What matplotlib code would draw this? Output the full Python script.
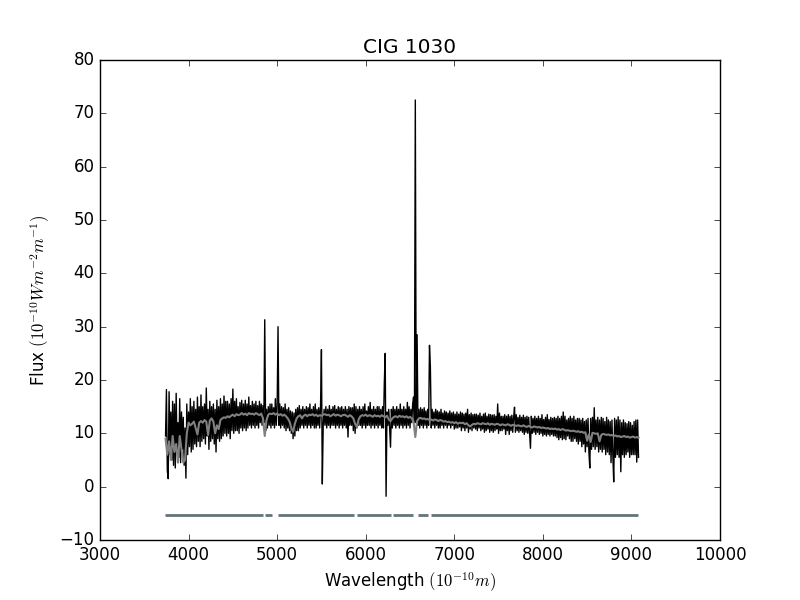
import numpy as np
import matplotlib

matplotlib.use("Agg")
import matplotlib.pyplot as plt

plt.style.use("classic")

title = "CIG 1030"

# observed spectrum: 10 A steps from 3740 to 9080
wave_obs = np.arange(3740, 9081, 10)
flux_obs = [
    9.5, 18.2, 3.0, 1.5, 17.8, 6.0, 14.0, 5.0, 16.0, 4.0,
    15.5, 3.5, 17.5, 6.5, 12.0, 5.5, 16.5, 4.5, 14.0, 7.0,
    13.0, 4.0, 11.0, 1.6, 15.5, 6.0, 14.0, 7.5, 16.5, 6.5,
    15.0, 7.0, 16.0, 8.0, 14.5, 7.5, 16.8, 8.5, 15.0, 7.5,
    17.2, 8.5, 15.0, 9.0, 15.5, 8.0, 18.5, 9.5, 14.5, 7.0,
    16.0, 8.5, 15.0, 9.0, 15.5, 8.0, 14.5, 6.5, 16.2, 9.0,
    15.0, 8.5, 16.5, 9.0, 15.5, 9.5, 17.0, 10.0, 16.0, 9.5,
    16.0, 10.0, 15.5, 9.0, 16.5, 10.5, 18.3, 10.0, 16.0, 10.5,
    16.5, 10.5, 15.0, 10.0, 15.8, 11.0, 16.2, 10.5, 15.5, 11.0,
    16.2, 10.5, 15.5, 11.0, 16.8, 11.5, 15.2, 11.0, 16.0, 11.5,
    15.5, 11.0, 16.0, 11.5, 15.2, 11.0, 16.0, 12.0, 15.5, 11.5,
    15.2, 12.0, 31.3, 10.5, 14.5, 11.0, 15.0, 11.5, 15.5, 11.0,
    15.5, 11.5, 14.8, 11.0, 16.5, 11.5, 15.0, 30.0, 11.5, 15.5,
    11.0, 15.0, 11.5, 14.8, 11.0, 15.5, 10.5, 14.5, 11.0, 14.8,
    10.5, 14.2, 10.0, 14.0, 9.0, 13.8, 9.5, 14.5, 10.5, 14.8,
    10.5, 15.2, 11.0, 14.5, 11.5, 15.0, 11.0, 14.5, 11.5, 15.0,
    11.0, 14.8, 11.5, 15.5, 11.0, 14.5, 11.5, 15.0, 11.0, 15.5,
    11.0, 14.5, 11.5, 14.8, 11.0, 15.0, 25.7, 0.5, 11.5, 14.5,
    11.5, 15.0, 11.0, 14.5, 11.5, 15.2, 11.0, 14.5, 11.5, 15.0,
    11.5, 15.2, 11.0, 14.5, 11.5, 15.0, 11.0, 14.8, 11.5, 15.0,
    11.0, 14.5, 11.5, 15.0, 11.0, 14.5, 9.3, 15.0, 11.5, 14.8,
    11.5, 14.8, 10.5, 15.5, 10.0, 15.0, 11.0, 14.5, 11.5, 15.0,
    11.5, 14.5, 11.0, 15.0, 11.5, 15.5, 11.0, 14.2, 11.5, 15.0,
    11.5, 15.8, 11.0, 14.5, 11.5, 15.0, 11.0, 14.5, 11.5, 15.0,
    11.0, 15.0, 11.5, 14.5, 11.0, 15.0, 11.0, 19.5, 25.0, -1.8,
    14.0, 11.5, 14.5, 11.0, 7.4, 14.5, 11.0, 15.0, 11.5, 14.5,
    11.0, 15.0, 11.5, 14.5, 11.0, 15.5, 11.5, 14.5, 11.0, 15.0,
    11.5, 14.5, 11.0, 15.8, 11.5, 15.0, 11.0, 14.5, 12.0, 15.5,
    16.8, 12.0, 72.5, 12.0, 28.5, 11.5, 14.5, 11.0, 14.8, 11.5,
    14.5, 11.0, 14.8, 11.5, 14.2, 11.0, 14.5, 11.5, 26.5, 22.5,
    11.0, 14.5, 11.5, 14.0, 11.0, 14.5, 11.5, 14.2, 11.0, 14.0,
    11.0, 14.5, 11.5, 13.8, 11.0, 14.2, 11.5, 14.0, 11.0, 13.8,
    11.5, 14.2, 11.0, 13.8, 11.5, 14.0, 10.8, 13.6, 11.0, 14.0,
    11.0, 13.6, 11.2, 14.0, 10.5, 13.8, 11.0, 13.6, 10.5, 13.8,
    11.0, 14.5, 10.2, 13.5, 10.8, 13.8, 10.5, 13.5, 11.0, 13.6,
    10.8, 13.6, 10.5, 13.4, 11.0, 13.8, 10.5, 13.2, 10.8, 13.6,
    10.2, 13.8, 10.5, 13.2, 10.8, 13.6, 10.2, 13.5, 10.5, 13.4,
    10.2, 13.5, 10.5, 13.2, 10.8, 15.5, 10.0, 13.8, 10.5, 13.2,
    10.5, 13.2, 10.8, 13.5, 9.8, 13.2, 10.5, 13.5, 9.8, 13.2,
    10.5, 13.4, 10.2, 13.0, 14.9, 10.2, 13.5, 10.5, 13.0, 10.2,
    13.4, 10.5, 13.0, 10.2, 13.4, 9.8, 13.0, 10.2, 13.2, 10.0,
    13.0, 10.2, 7.2, 13.2, 10.0, 12.8, 10.2, 13.2, 9.8, 12.8,
    10.2, 13.2, 9.8, 12.8, 10.0, 13.5, 9.5, 12.6, 9.8, 13.0,
    9.5, 13.5, 9.8, 12.6, 9.5, 13.0, 9.8, 12.8, 9.5, 13.0,
    9.5, 12.8, 9.2, 13.2, 8.8, 12.8, 9.2, 13.2, 8.8, 14.0,
    9.0, 13.2, 8.8, 12.5, 9.5, 12.8, 9.0, 13.2, 8.5, 12.8,
    8.5, 13.2, 9.0, 12.5, 8.5, 12.8, 8.0, 12.8, 8.5, 12.5,
    7.5, 12.8, 8.0, 12.2, 6.5, 12.5, 7.5, 12.8, 6.5, 3.5,
    12.8, 7.0, 13.0, 7.5, 14.8, 7.0, 12.5, 7.5, 13.0, 6.5,
    12.5, 7.0, 13.0, 6.5, 12.8, 7.0, 12.2, 6.0, 13.0, 6.5,
    12.5, 6.0, 12.2, 4.5, 12.5, 6.0, 0.9, 12.8, 5.5, 12.5,
    6.0, 13.1, 5.5, 12.5, 2.8, 12.0, 6.0, 12.5, 5.5, 12.0,
    6.0, 11.8, 6.5, 12.2, 5.5, 12.0, 6.0, 11.5, 6.0, 12.2,
    6.0, 12.5, 4.6, 12.5, 5.5,
]

# fitted model (grey curve): 20 A steps from 3740 to 9080
wave_model = np.arange(3740, 9081, 20)
flux_model = [
    9.0, 6.0, 8.5, 5.0, 9.5, 6.5, 8.0, 4.5, 9.5, 7.0,
    4.5, 5.0, 10.0, 12.0, 11.5, 11.8, 12.2, 11.0, 9.8, 12.0,
    12.3, 12.0, 12.5, 12.2, 9.7, 12.4, 12.8, 12.2, 10.0, 11.5,
    10.8, 12.5, 12.8, 13.0, 12.9, 13.2, 13.0, 13.3, 13.5, 13.2,
    13.6, 13.4, 13.5, 13.8, 13.5, 13.7, 13.4, 13.8, 13.6, 13.7,
    13.5, 13.8, 13.6, 13.4, 13.7, 12.8, 9.5, 12.5, 13.5, 13.7,
    13.6, 13.8, 13.5, 13.7, 13.4, 13.6, 13.3, 13.5, 13.2, 12.8,
    12.2, 11.0, 10.3, 11.8, 12.8, 13.2, 13.4, 12.8, 13.3, 13.5,
    13.2, 13.5, 13.4, 13.6, 13.3, 13.5, 13.2, 13.4, 13.3, 13.5,
    13.6, 13.4, 13.5, 13.2, 13.4, 13.6, 13.3, 13.5, 13.4, 13.2,
    13.4, 13.5, 13.3, 13.1, 13.4, 13.2, 12.8, 11.8, 11.2, 12.6,
    13.2, 13.4, 13.3, 13.5, 13.2, 13.4, 13.3, 13.1, 13.4, 13.2,
    13.3, 13.1, 13.4, 13.2, 13.0, 13.3, 12.6, 12.3, 12.8, 13.1,
    13.2, 13.0, 13.3, 13.1, 13.2, 13.0, 13.2, 12.9, 13.1, 12.8,
    12.2, 9.3, 12.3, 12.8, 12.9, 12.7, 12.8, 12.6, 12.7, 12.5,
    12.6, 12.4, 12.6, 12.5, 12.3, 12.5, 12.4, 12.2, 12.3, 12.1,
    12.2, 12.0, 12.1, 11.9, 12.1, 11.8, 12.0, 11.9, 12.0, 11.7,
    11.9, 11.5, 11.3, 11.6, 11.8, 11.7, 11.9, 11.8, 11.7, 11.9,
    11.8, 11.7, 11.9, 11.6, 11.8, 11.7, 11.6, 11.8, 11.7, 11.5,
    11.7, 11.6, 11.5, 11.7, 11.6, 11.4, 11.6, 11.5, 11.4, 11.5,
    11.4, 11.3, 11.5, 11.3, 11.2, 11.4, 11.2, 11.1, 11.3, 11.2,
    11.1, 11.2, 11.0, 11.1, 11.0, 10.9, 11.0, 10.8, 10.9, 10.8,
    10.9, 10.7, 10.8, 10.6, 10.8, 10.7, 10.5, 10.6, 10.5, 10.4,
    10.5, 10.4, 10.3, 10.4, 10.2, 10.3, 10.1, 10.2, 8.6, 9.8,
    8.4, 10.1, 10.0, 9.9, 10.0, 8.5, 9.7, 9.9, 9.8, 9.7,
    9.8, 9.6, 9.7, 9.5, 9.6, 9.4, 9.5, 9.3, 9.4, 9.5,
    9.3, 9.4, 9.2, 9.3, 9.4, 9.2, 9.3, 9.2,
]

# good-pixel mask segments (start, end in A) drawn at a fixed level
mask_start = [3735, 4863, 5010, 5902, 6308, 6590, 6737]
mask_end = [4840, 4942, 5868, 6286, 6534, 6703, 9074]
mask_level = -5.3

fig, ax = plt.subplots(figsize=(8, 6), dpi=100)
ax.plot(wave_obs, flux_obs, color="k", lw=1.0)
ax.plot(wave_model, flux_model, color="0.5", lw=1.5)
ax.hlines([mask_level] * len(mask_start), mask_start, mask_end,
          color="#647478", lw=2)

ax.set_xlim(3000, 10000)
ax.set_ylim(-10, 80)
ax.set_title(title)
ax.set_xlabel(r"Wavelength $(10^{-10}m)$")
ax.set_ylabel(r"Flux $(10^{-10}Wm^{-2}m^{-1})$")

fig.savefig("out.png", dpi=100)
